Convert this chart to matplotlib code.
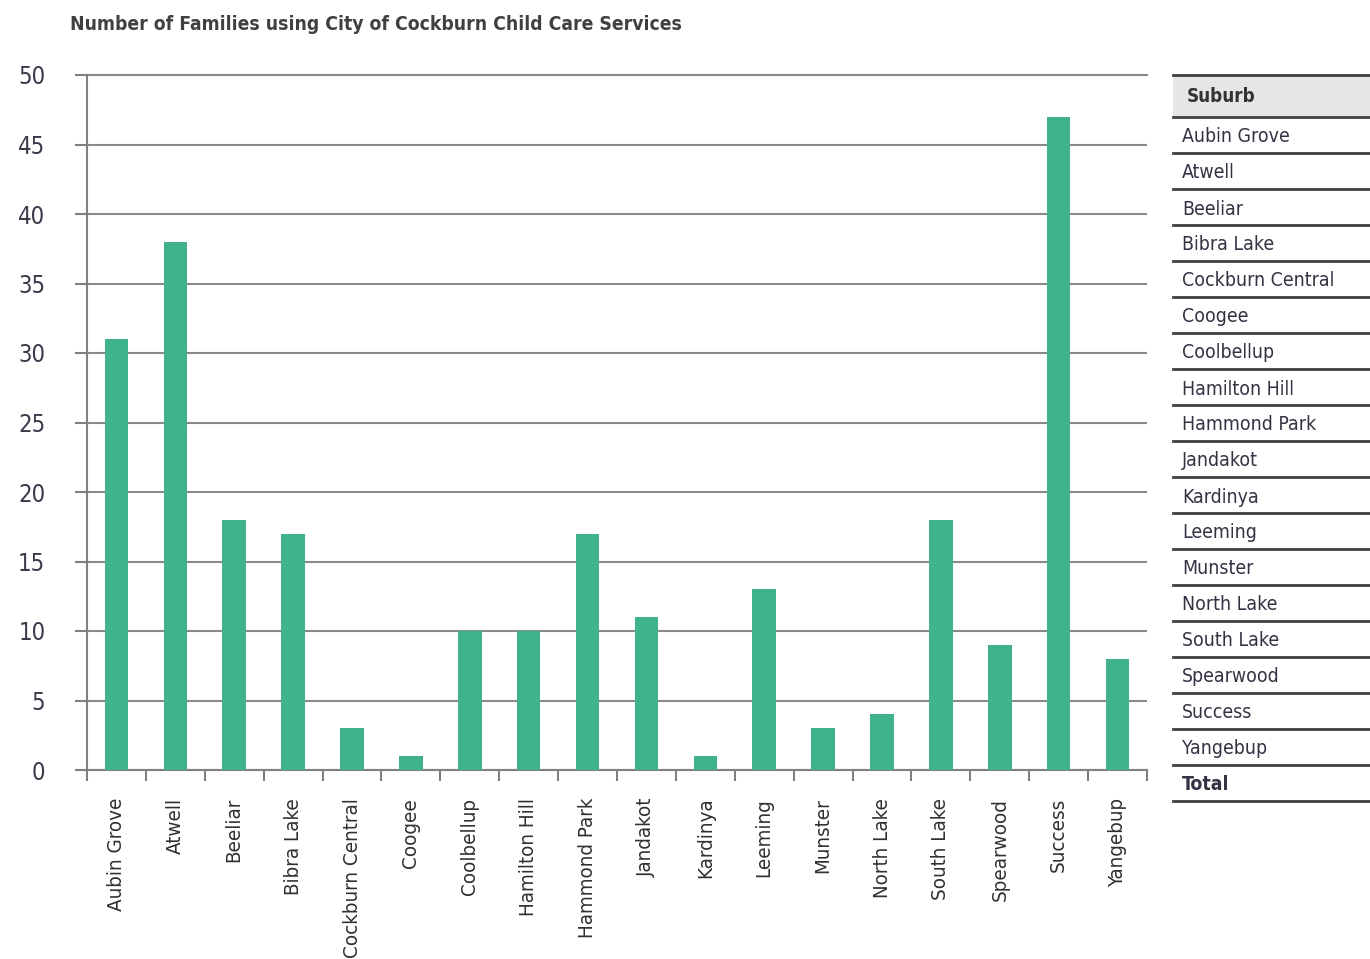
import numpy as np
import matplotlib.pyplot as plt
from matplotlib.lines import Line2D
from matplotlib.patches import Rectangle
from matplotlib import font_manager

suburbs = ['Aubin Grove', 'Atwell', 'Beeliar', 'Bibra Lake', 'Cockburn Central',
           'Coogee', 'Coolbellup', 'Hamilton Hill', 'Hammond Park', 'Jandakot',
           'Kardinya', 'Leeming', 'Munster', 'North Lake', 'South Lake',
           'Spearwood', 'Success', 'Yangebup']
families = [31, 38, 18, 17, 3, 1, 10, 10, 17, 11, 1, 13, 3, 4, 18, 9, 47, 8]
y_ticks = [0, 5, 10, 15, 20, 25, 30, 35, 40, 45, 50]
table_rows = suburbs + ['Total']

# pick a narrow face if one is there
faces = font_manager.fontManager.ttflist
names = {f.name for f in faces}
cond = [f.name for f in faces if f.stretch in ('condensed', 'semi-condensed', 375, 'extra-condensed')
        or 'Narrow' in f.name or 'Condensed' in f.name]
if 'Liberation Sans Narrow' in names:
    fam, stretch, k = 'Liberation Sans Narrow', 'normal', 1.0
elif any('DejaVu' in n for n in cond):
    fam, stretch, k = 'DejaVu Sans', 'condensed', 0.9
else:
    fam, stretch, k = 'Liberation Sans', 'normal', 0.85
plt.rcParams['font.family'] = [fam, 'DejaVu Sans']
plt.rcParams['font.stretch'] = stretch

W, H = 1370, 959
fig = plt.figure(figsize=(W / 100, H / 100), dpi=100)

# axes box in pixel terms of the reference
left, right, top, bottom = 87, 1147, 75, 770
ax = fig.add_axes([left / W, 1 - bottom / H, (right - left) / W, (bottom - top) / H])

x = np.arange(len(suburbs))
ax.bar(x, families, width=0.4, color='#41b38a', zorder=3)

ax.set_xlim(-0.5, len(suburbs) - 0.5)
ax.set_ylim(0, 50)
ax.set_yticks(y_ticks)
ax.set_yticklabels([str(v) for v in y_ticks], fontsize=19 * k, color='#3a3a4a')
ax.tick_params(axis='y', length=9, color='#808080', width=1.5, pad=21)
for lab in ax.get_yticklabels():
    lab.set_horizontalalignment('right')

ax.set_xticks(x)
ax.set_xticklabels(suburbs, rotation=90, fontsize=16.4 * k, color='#303030', va='top')
ax.tick_params(axis='x', which='major', length=0, pad=20)
ax.set_xticks(np.arange(-0.5, len(suburbs)), minor=True)
ax.tick_params(axis='x', which='minor', length=8, color='#808080', width=1.5)

ax.grid(axis='y', color='#8a8a8a', linewidth=1.5, zorder=0)
for s in ['top', 'right']:
    ax.spines[s].set_visible(False)
for s in ['left', 'bottom']:
    ax.spines[s].set_color('#808080')
    ax.spines[s].set_linewidth(1.5)
ax.axhline(50, color='#8a8a8a', linewidth=1.5, zorder=0, clip_on=False)

fig.text(70 / W, 1 - 25 / H, 'Number of Families using City of Cockburn Child Care Services',
         fontsize=15.4 * k, fontweight='bold', color='#404040', va='center', ha='left')

# side table
tx0, tx1 = 1173, 1370
t_top, head_bot, row_h = 75, 117, 36
fig.patches.append(Rectangle((tx0 / W, 1 - head_bot / H), (tx1 - tx0) / W,
                             (head_bot - t_top) / H, transform=fig.transFigure,
                             facecolor='#e6e6e6', edgecolor='none'))
fig.text(1187 / W, 1 - 96 / H, 'Suburb', fontsize=15 * k, fontweight='bold',
         color='#333333', va='center')
lines_y = [t_top, head_bot] + [head_bot + row_h * (i + 1) for i in range(len(table_rows))]
for yy in lines_y:
    fig.add_artist(Line2D([tx0 / W, tx1 / W], [1 - yy / H, 1 - yy / H],
                          transform=fig.transFigure, color='#404040', linewidth=2))
for i, name in enumerate(table_rows):
    yc = head_bot + row_h * i + row_h / 2 + 2
    fig.text(1182 / W, 1 - yc / H, name, fontsize=15.5 * k,
             fontweight='bold' if name == 'Total' else 'normal',
             color='#333344', va='center')

fig.savefig('out.png', dpi=100)
